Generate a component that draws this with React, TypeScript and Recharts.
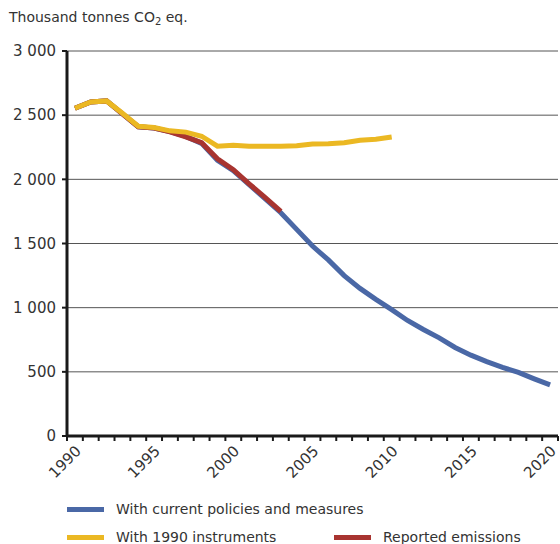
import React from "react";
import { LineChart, Line, XAxis, YAxis, CartesianGrid, Legend } from "recharts";

const years = [
  1990, 1991, 1992, 1993, 1994, 1995, 1996, 1997, 1998, 1999, 2000, 2001, 2002, 2003, 2004, 2005,
  2006, 2007, 2008, 2009, 2010, 2011, 2012, 2013, 2014, 2015, 2016, 2017, 2018, 2019, 2020,
];

const currentPolicies = [
  2554, 2603, 2611, 2510, 2410, 2400, 2372, 2335, 2280, 2148, 2068, 1958, 1850, 1740, 1610, 1480,
  1372, 1250, 1150, 1065, 985, 900, 830, 765, 690, 630, 580, 535, 495, 445, 398,
];

const instruments1990 = [
  2554, 2603, 2611, 2515, 2414, 2404, 2378, 2368, 2336, 2258, 2266, 2258, 2257, 2258, 2261, 2275,
  2278, 2285, 2305, 2312, 2330, null, null, null, null, null, null, null, null, null, null,
];

const reportedEmissions = [
  2554, 2603, 2611, 2510, 2410, 2400, 2370, 2330, 2285, 2160, 2075, 1965, 1860, 1750, null, null,
  null, null, null, null, null, null, null, null, null, null, null, null, null, null, null,
];

const yTicks = [0, 500, 1000, 1500, 2000, 2500, 3000];
const xLabelTicks = [1990, 1995, 2000, 2005, 2010, 2015, 2020];
const xMinorTicks = [...years.map((y) => y - 0.5), 2020.5];

const seriesNames = {
  current: "With current policies and measures",
  inst: "With 1990 instruments",
  reported: "Reported emissions",
};

const COLORS = { current: "#4A68A6", inst: "#EBB823", reported: "#A83430" };
const FONT = "'DejaVu Sans', sans-serif";
const TEXT = "#333";
const AXIS = "#1a1a1a";

const data = years.map((year, i) => ({
  year,
  current: currentPolicies[i],
  inst: instruments1990[i],
  reported: reportedEmissions[i],
}));

const fmt = (v: number) => String(v).replace(/\B(?=(\d{3})+(?!\d))/g, " ");

const XLabel = (props: any) => {
  const { x, y, payload } = props;
  return (
    <text
      transform={`translate(${x + 7},${y + 15}) rotate(-45)`}
      textAnchor="end"
      fontSize={15}
      fontFamily={FONT}
      fill={TEXT}
    >
      {payload.value}
    </text>
  );
};

const EmptyTick = () => <g />;

const LegendBox = () => {
  const item = (x: number, y: number, color: string, label: string) => (
    <div style={{ position: "absolute", left: x, top: y, height: 14, display: "flex", alignItems: "center" }}>
      <div style={{ width: 37, height: 5, background: color }} />
      <span
        style={{
          marginLeft: 12,
          fontSize: 14,
          lineHeight: "14px",
          fontFamily: FONT,
          color: TEXT,
          whiteSpace: "nowrap",
        }}
      >
        {label}
      </span>
    </div>
  );
  return (
    <div style={{ position: "relative", width: 560, height: 50 }}>
      {item(67, 8, COLORS.current, seriesNames.current)}
      {item(67, 36, COLORS.inst, seriesNames.inst)}
      {item(334, 36, COLORS.reported, seriesNames.reported)}
    </div>
  );
};

export default function App() {
  return (
    <div style={{ position: "absolute", left: 0, top: 0, width: 560, height: 544, background: "#fff" }}>
      <div
        style={{
          position: "absolute",
          left: 9,
          top: 9,
          fontSize: 14,
          fontFamily: FONT,
          color: TEXT,
          whiteSpace: "nowrap",
        }}
      >
        Thousand tonnes CO<sub style={{ fontSize: 10, verticalAlign: "-3px" }}>2</sub> eq.
      </div>
      <LineChart
        width={560}
        height={544}
        data={data}
        margin={{ top: 51, right: 2, left: 0, bottom: 0 }}
      >
        <CartesianGrid horizontal={true} vertical={false} stroke="#555" strokeWidth={1} yAxisId="y" xAxisId="a" />
        <YAxis
          yAxisId="y"
          type="number"
          domain={[0, 3000]}
          ticks={yTicks}
          interval={0}
          width={67}
          tickFormatter={fmt}
          stroke={AXIS}
          axisLine={{ stroke: AXIS, strokeWidth: 3 }}
          tickLine={{ stroke: AXIS, strokeWidth: 2 }}
          tickSize={5}
          tickMargin={6}
          tick={{ fontSize: 15, fontFamily: FONT, fill: TEXT }}
        />
        <XAxis
          xAxisId="a"
          dataKey="year"
          type="number"
          domain={[1989.5, 2020.5]}
          ticks={xMinorTicks}
          interval={0}
          height={1}
          stroke={AXIS}
          axisLine={{ stroke: AXIS, strokeWidth: 3 }}
          tickLine={{ stroke: AXIS, strokeWidth: 2 }}
          tickSize={5}
          tick={<EmptyTick />}
        />
        <XAxis
          xAxisId="b"
          dataKey="year"
          type="number"
          domain={[1989.5, 2020.5]}
          ticks={xLabelTicks}
          interval={0}
          height={57}
          axisLine={false}
          tickLine={false}
          tickSize={0}
          tickMargin={0}
          tick={<XLabel />}
        />
        <Legend verticalAlign="bottom" height={50} content={<LegendBox />} wrapperStyle={{ left: 0, bottom: 0 }} />
        <Line
          xAxisId="a"
          yAxisId="y"
          dataKey="current"
          name={seriesNames.current}
          stroke={COLORS.current}
          strokeWidth={5}
          dot={false}
          isAnimationActive={false}
        />
        <Line
          xAxisId="a"
          yAxisId="y"
          dataKey="reported"
          name={seriesNames.reported}
          stroke={COLORS.reported}
          strokeWidth={5}
          dot={false}
          isAnimationActive={false}
        />
        <Line
          xAxisId="a"
          yAxisId="y"
          dataKey="inst"
          name={seriesNames.inst}
          stroke={COLORS.inst}
          strokeWidth={5}
          dot={false}
          isAnimationActive={false}
        />
      </LineChart>
    </div>
  );
}
